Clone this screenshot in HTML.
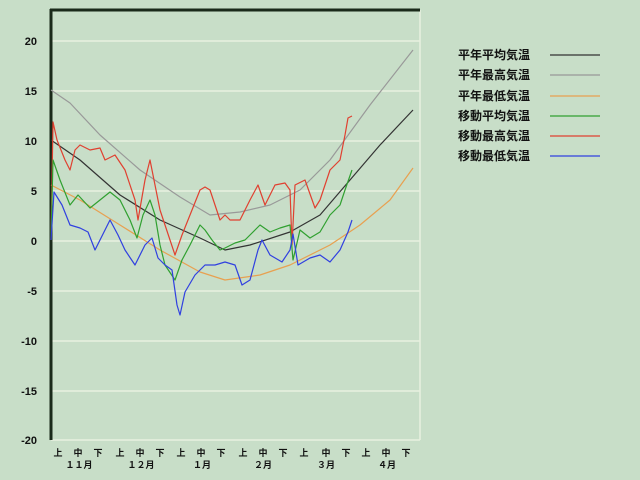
<!DOCTYPE html><html><head><meta charset="utf-8"><style>body{margin:0;background:#c8dec8}svg{display:block}text{font-family:"Liberation Sans","Noto Sans CJK JP",sans-serif;font-weight:bold;fill:#111}</style></head><body>
<svg width="640" height="480" viewBox="0 0 640 480">
<rect width="640" height="480" fill="#c8dec8"/>
<g stroke="#e8f0e0" stroke-width="1.5">
<line x1="51" x2="420" y1="41" y2="41"/><line x1="51" x2="420" y1="91" y2="91"/><line x1="51" x2="420" y1="141" y2="141"/><line x1="51" x2="420" y1="191" y2="191"/><line x1="51" x2="420" y1="241" y2="241"/><line x1="51" x2="420" y1="291" y2="291"/><line x1="51" x2="420" y1="341" y2="341"/><line x1="51" x2="420" y1="391" y2="391"/><line x1="51" x2="420" y1="440" y2="440"/><line x1="420" x2="420" y1="10" y2="440"/>
</g>
<line x1="50" x2="420" y1="10" y2="10" stroke="#1a2a1a" stroke-width="3"/>
<line x1="51" x2="51" y1="9" y2="440" stroke="#1a2a1a" stroke-width="3"/>
<g font-size="11" text-anchor="end">
<text x="37" y="45">20</text><text x="37" y="95">15</text><text x="37" y="145">10</text><text x="37" y="195">5</text><text x="37" y="245">0</text><text x="37" y="295">-5</text><text x="37" y="345">-10</text><text x="37" y="395">-15</text><text x="37" y="444">-20</text>
</g>
<g font-size="9" text-anchor="middle">
<text x="58" y="456">上</text><text x="78" y="456">中</text><text x="98" y="456">下</text>
<text x="120" y="456">上</text><text x="140" y="456">中</text><text x="160" y="456">下</text>
<text x="181" y="456">上</text><text x="201" y="456">中</text><text x="221" y="456">下</text>
<text x="243" y="456">上</text><text x="263" y="456">中</text><text x="283" y="456">下</text>
<text x="304" y="456">上</text><text x="326" y="456">中</text><text x="346" y="456">下</text>
<text x="366" y="456">上</text><text x="386" y="456">中</text><text x="406" y="456">下</text>
<text x="79" y="468">１１月</text><text x="141" y="468">１２月</text><text x="202" y="468">１月</text><text x="263" y="468">２月</text><text x="326" y="468">３月</text><text x="387" y="468">４月</text>
</g>
<g fill="none" stroke-width="1.2" stroke-linejoin="round">
<polyline stroke="#999" points="51,90 70,103 100,135 140,170 180,197 210,215 240,212 270,205 300,190 330,160 370,105 413,50"/>
<polyline stroke="#e8a050" points="51,185 80,200 120,225 160,250 200,272 225,280 260,275 290,265 330,245 360,225 390,200 413,168"/>
<polyline stroke="#333" points="51,140 80,160 120,195 160,220 200,238 225,250 250,245 290,232 320,215 350,180 380,145 413,110"/>
<polyline stroke="#e04030" points="51,240 53,122 57,140 65,160 70,170 75,150 80,145 90,150 100,148 105,160 115,155 125,170 135,200 138,220 145,180 150,160 155,185 160,210 170,240 175,255 182,235 190,215 200,190 205,187 210,190 220,220 225,215 230,220 240,220 250,200 258,185 265,205 275,185 285,183 290,190 292,245 295,185 305,180 315,208 320,200 330,170 340,160 345,135 348,118 352,116"/>
<polyline stroke="#30a030" points="51,240 53,160 60,180 70,205 78,195 90,208 100,200 110,192 120,200 130,220 137,238 143,215 150,200 155,215 160,245 165,265 175,280 182,260 190,245 200,225 205,230 212,240 220,250 225,248 235,243 245,240 250,235 255,230 260,225 270,232 280,228 290,225 293,260 300,230 310,238 320,232 330,215 340,205 345,190 352,170"/>
<polyline stroke="#3040e0" points="51,240 54,192 62,205 70,225 80,228 88,232 95,250 100,240 110,220 118,235 125,250 135,265 145,245 152,238 158,258 165,265 172,270 177,305 180,315 185,292 195,275 205,265 215,265 225,262 235,265 242,285 250,280 258,250 262,240 270,255 282,262 290,250 293,234 298,265 310,258 320,255 330,262 340,250 348,232 352,220"/>
</g>
<g font-size="12">
<text x="458" y="59">平年平均気温</text><text x="458" y="79">平年最高気温</text><text x="458" y="100">平年最低気温</text><text x="458" y="120">移動平均気温</text><text x="458" y="140">移動最高気温</text><text x="458" y="160">移動最低気温</text>
</g>
<g stroke-width="1.3">
<line x1="550" x2="600" y1="55" y2="55" stroke="#333"/><line x1="550" x2="600" y1="75" y2="75" stroke="#999"/><line x1="550" x2="600" y1="96" y2="96" stroke="#e8a050"/><line x1="550" x2="600" y1="116" y2="116" stroke="#30a030"/><line x1="550" x2="600" y1="136" y2="136" stroke="#e04030"/><line x1="550" x2="600" y1="156" y2="156" stroke="#3040e0"/>
</g>
</svg></body></html>
